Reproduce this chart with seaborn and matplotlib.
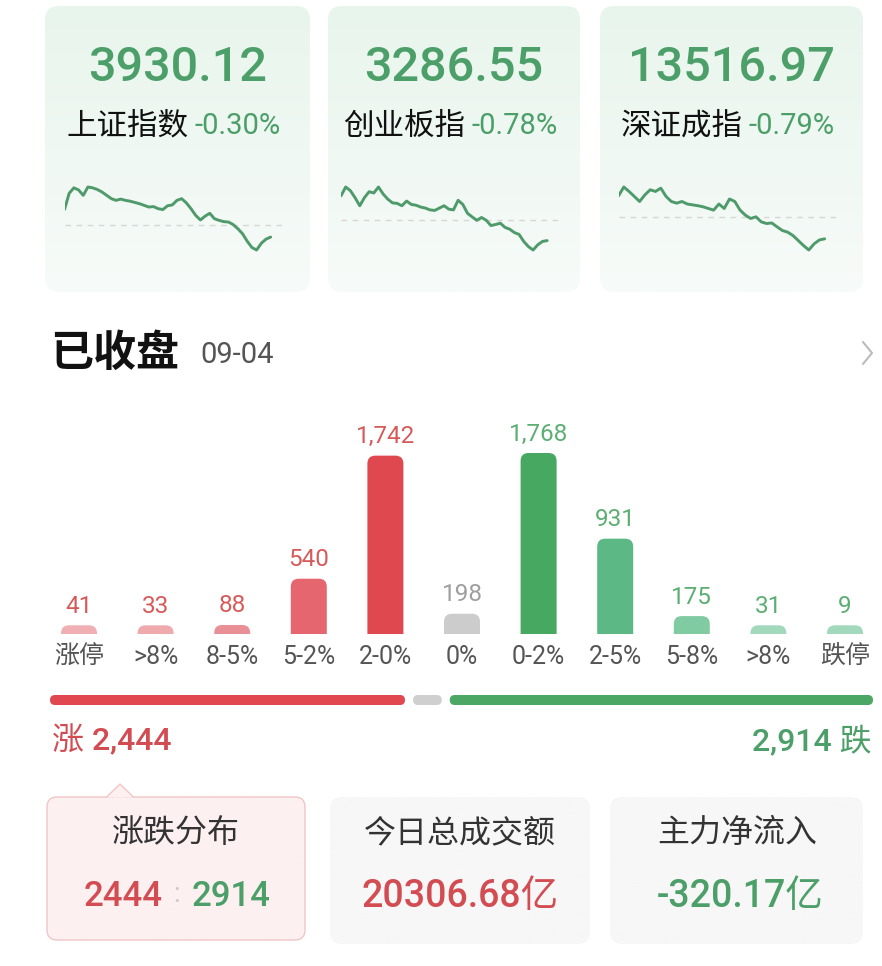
import numpy as np
import pandas as pd
import matplotlib
matplotlib.use("Agg")
import matplotlib.pyplot as plt
from matplotlib.patches import FancyBboxPatch, Polygon
from matplotlib.colors import LinearSegmentedColormap
import seaborn as sns

# ---- data ----
index_names = ['上证指数', '创业板指', '深证成指']
index_values = ['3930.12', '3286.55', '13516.97']
index_changes = ['-0.30%', '-0.78%', '-0.79%']

# intraday % change
sh_curve = [0.36, 0.75, 0.88, 0.83, 0.70, 0.90, 0.88, 0.84, 0.78, 0.70, 0.62, 0.58, 0.61, 0.58, 0.56,
            0.53, 0.50, 0.46, 0.42, 0.43, 0.38, 0.36, 0.45, 0.47, 0.58, 0.62, 0.52, 0.38, 0.22, 0.11,
            0.20, 0.27, 0.14, 0.10, 0.07, 0.06, 0.00, -0.10, -0.22, -0.40, -0.55, -0.61, -0.45, -0.35, -0.30]
cy_curve = [0.94, 1.28, 1.14, 0.87, 0.56, 0.87, 1.10, 1.05, 1.28, 1.01, 0.81, 0.67, 0.65, 0.56, 0.74,
            0.61, 0.58, 0.51, 0.47, 0.40, 0.38, 0.47, 0.56, 0.43, 0.40, 0.77, 0.61, 0.27, 0.13, 0.00,
            0.11, 0.00, -0.20, -0.16, -0.11, -0.27, -0.34, -0.47, -0.54, -0.81, -1.01, -1.14, -0.94, -0.81, -0.78]
sz_curve = [0.75, 1.07, 0.91, 0.73, 0.55, 0.79, 0.97, 0.91, 1.03, 0.73, 0.55, 0.49, 0.55, 0.46, 0.43,
            0.40, 0.36, 0.30, 0.24, 0.46, 0.30, 0.64, 0.55, 0.24, 0.06, -0.06, 0.00, -0.18, -0.24, -0.22,
            -0.36, -0.49, -0.55, -0.67, -0.85, -1.03, -1.19, -0.97, -0.83, -0.79]
curves = [sh_curve, cy_curve, sz_curve]

bins = ['涨停', '>8%', '8-5%', '5-2%', '2-0%', '0%', '0-2%', '2-5%', '5-8%', '>8%', '跌停']
counts = [41, 33, 88, 540, 1742, 198, 1768, 931, 175, 31, 9]
bar_colors = ['#f0b0b3', '#eeaaad', '#e99096', '#e5666f', '#e04850', '#cccccc',
              '#47a862', '#5cb884', '#80cba2', '#a2d9bd', '#a2d9bd']
value_colors = ['#d65a5a'] * 5 + ['#9e9e9e'] + ['#5cae72'] * 5

turnover = '20306.68亿'
net_flow = '-320.17亿'
close_date = '09-04'

up_total = sum(counts[:5])
flat_total = counts[5]
down_total = sum(counts[6:])

RED = '#d24c52'
GREEN = '#4c9f68'

W, H = 882, 966
sns.set_theme(style='white')
plt.rcParams['font.family'] = ['Roboto', 'Noto Sans CJK SC', 'DejaVu Sans']
plt.rcParams['axes.unicode_minus'] = False

fig = plt.figure(figsize=(W / 100, H / 100), dpi=100)
fig.patch.set_facecolor('white')


def px_axes(x0, y0, x1, y1):
    return fig.add_axes([x0 / W, 1 - y1 / H, (x1 - x0) / W, (y1 - y0) / H])


# background axes in pixel coordinates for cards and text
bg = px_axes(0, 0, W, H)
bg.set_zorder(-1)


def card(x0, y0, x1, y1, top, bottom, r=12, edge='none'):
    patch = FancyBboxPatch((x0, y0), x1 - x0, y1 - y0,
                           boxstyle=f"round,pad=0,rounding_size={r}",
                           fc='none', ec=edge, lw=1, zorder=2)
    bg.add_patch(patch)
    cmap = LinearSegmentedColormap.from_list('c', [top, bottom])
    grad = np.linspace(0, 1, 100)[:, None]
    im = bg.imshow(grad, extent=(x0, x1, y1, y0), cmap=cmap, aspect='auto', zorder=1)
    im.set_clip_path(patch)


# ---- index cards ----
card_edges = [(45, 310), (328, 580), (600, 863)]
for i, (x0, x1) in enumerate(card_edges):
    card(x0, 6, x1, 292, '#e8f5ec', '#f7fbf9', r=14)
    cx = (x0 + x1) / 2
    bg.text(cx, 68, index_values[i], ha='center', va='center', fontsize=35,
            fontweight='medium', color=GREEN)
    split = cx + 14
    bg.text(split - 3, 126, index_names[i], ha='right', va='center', fontsize=22, color='#111111')
    bg.text(split + 3, 126, index_changes[i], ha='left', va='center', fontsize=21, color=GREEN)

    ax = px_axes(cx - 113, 184, cx + 104, 253)
    vals = curves[i]
    sns.lineplot(x=np.arange(len(vals)), y=vals, ax=ax, color='#4f9a6a', lw=2.1)
    ax.axhline(0, color='#d6d6d6', lw=1, ls=(0, (4, 4)), zorder=0)
    lo, hi = min(vals), max(vals)
    m = (hi - lo) * 3 / 63
    ax.set_ylim(lo - m, hi + m)
    ax.set_xlim(0, (len(vals) - 1) / 0.95)
    ax.axis('off')

# ---- header ----
bg.text(50, 354, '已收盘', ha='left', va='center', fontsize=31, fontweight='bold', color='#111111')
bg.text(200, 355, close_date, ha='left', va='center', fontsize=21, color='#555555')
bg.plot([863, 872, 863], [342, 353, 364], color='#bbbbbb', lw=1.5)

# ---- distribution bars ----
df = pd.DataFrame({'pos': range(len(bins)), 'label': bins, 'count': counts})
min_shown = 85
df['shown'] = df['count'].clip(lower=min_shown)

ax = px_axes(40.7, 420, 883.3, 634)
sns.barplot(data=df, x='pos', y='shown', hue='pos', palette=bar_colors, width=0.47,
            saturation=1, legend=False, ax=ax)
ymax = 2090
ax.set_ylim(0, ymax)
ax.set_xlim(-0.5, len(bins) - 0.5)

x_per_px = len(bins) / 842.6
y_per_px = ymax / 214
r_px = 8
aspect = y_per_px / x_per_px
for p in list(ax.patches):
    x, w, h = p.get_x(), p.get_width(), p.get_height()
    fc = p.get_facecolor()
    p.set_visible(False)
    ext = r_px * y_per_px
    rp = FancyBboxPatch((x, -ext), w, h + ext,
                        boxstyle=f"round,pad=0,rounding_size={r_px * x_per_px}",
                        mutation_aspect=aspect, fc=fc, ec='none')
    ax.add_patch(rp)

for i, row in df.iterrows():
    ax.text(row['pos'], row['shown'] + 19 * y_per_px, f"{row['count']:,}", ha='center', va='center',
            fontsize=17.5, color=value_colors[i], clip_on=False)

ax.set_xticks(range(len(bins)))
ax.set_xticklabels(bins, fontsize=18, color='#555555')
ax.tick_params(axis='x', length=0, pad=8)
ax.set_yticks([])
ax.set_xlabel('')
ax.set_ylabel('')
sns.despine(ax=ax, left=True, bottom=True)
ax.patch.set_alpha(0)

# ---- up / flat / down strip ----
strip_total = up_total + flat_total + down_total
gap = 8 * strip_total / (823 - 16)
sx = px_axes(50, 695, 873, 705)
sx.set_xlim(0, strip_total + 2 * gap)
sx.set_ylim(0, 1)
upp = (strip_total + 2 * gap) / 823
left = 0
for v, c in zip([up_total, flat_total, down_total], ['#e0474f', '#cfcfcf', '#4ca765']):
    sx.add_patch(FancyBboxPatch((left, 0), v, 1, boxstyle=f"round,pad=0,rounding_size={5 * upp}",
                                mutation_aspect=(1 / 10) / upp, fc=c, ec='none'))
    left += v + gap
sx.axis('off')

bg.text(52, 741, f"涨 {up_total:,}", ha='left', va='center', fontsize=23, fontweight='medium', color=RED)
bg.text(872, 741, f"{down_total:,} 跌", ha='right', va='center', fontsize=23, fontweight='medium',
        color=GREEN)

# ---- bottom cards ----
card(47, 797, 305, 940, '#fdf0f0', '#fdf0f0', r=10, edge='#f2c6c6')
bg.add_patch(Polygon([(106, 797.6), (120, 784), (134, 797.6)], closed=False, fc='#fdf0f0',
                     ec='#f2c6c6', lw=1, zorder=3))
card(330, 797, 590, 944, '#f7f7f7', '#f7f7f7', r=12)
card(610, 797, 863, 944, '#f7f7f7', '#f7f7f7', r=12)

bg.text(176, 833, '涨跌分布', ha='center', va='center', fontsize=23, color='#333333', zorder=4)
bg.text(460, 833, '今日总成交额', ha='center', va='center', fontsize=23, color='#333333', zorder=4)
bg.text(737, 833, '主力净流入', ha='center', va='center', fontsize=23, color='#333333', zorder=4)

bg.text(163, 896, f"{up_total}", ha='right', va='center', fontsize=25, fontweight='medium',
        color=RED, zorder=4)
bg.text(177, 894, ':', ha='center', va='center', fontsize=20, color='#cccccc', zorder=4)
bg.text(192, 896, f"{down_total}", ha='left', va='center', fontsize=25, fontweight='medium',
        color=GREEN, zorder=4)
bg.text(460, 896, turnover, ha='center', va='center', fontsize=27, fontweight='medium',
        color=RED, zorder=4)
bg.text(740, 896, net_flow, ha='center', va='center', fontsize=27, fontweight='medium',
        color=GREEN, zorder=4)

bg.set_xlim(0, W)
bg.set_ylim(H, 0)
bg.axis('off')

fig.savefig('out.png', dpi=100, facecolor='white')
